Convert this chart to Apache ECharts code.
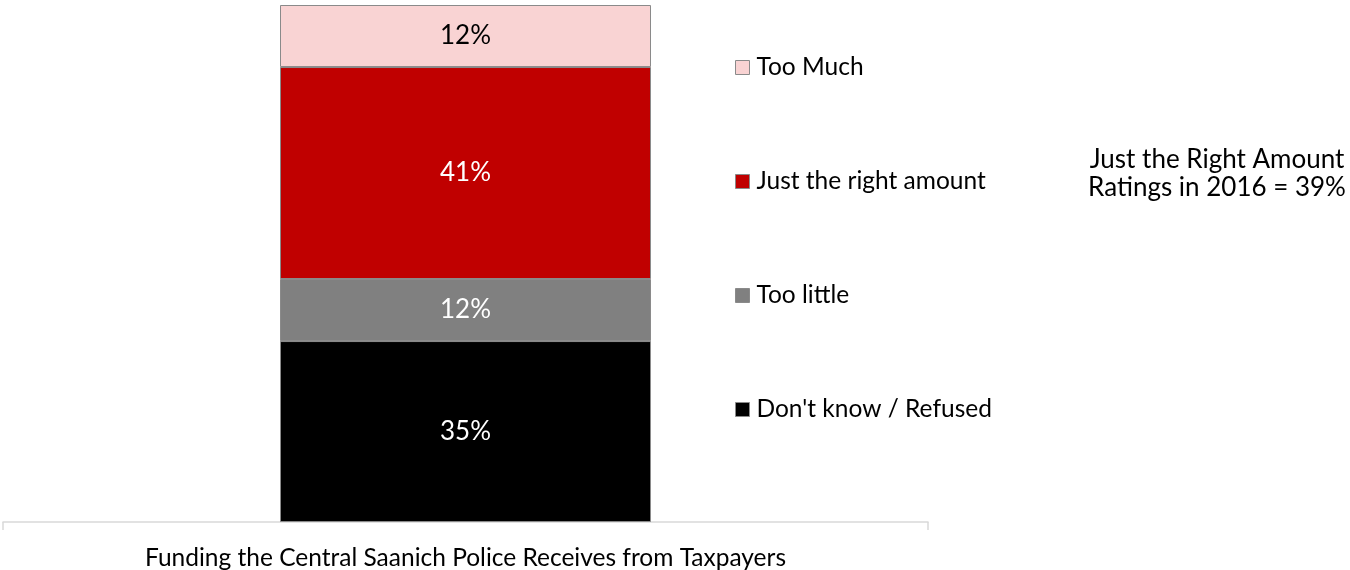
<!DOCTYPE html>
<html>
<head>
<meta charset="utf-8">
<script src="https://cdn.jsdelivr.net/npm/echarts@6/dist/echarts.min.js"></script>
<style>
  html, body { margin: 0; padding: 0; background: #fff; }
  #chart { width: 1350px; height: 570px; }
</style>
</head>
<body>
<div id="chart"></div>
<script>
// Survey responses, percent of respondents
const categories = ['Funding the Central Saanich Police Receives from Taxpayers'];
const seriesNames = ["Don't know / Refused", 'Too little', 'Just the right amount', 'Too Much'];
const dontKnow = [35];
const tooLittle = [12];
const justRight = [41];
const tooMuch = [12];
const legendOrder = ['Too Much', 'Just the right amount', 'Too little', "Don't know / Refused"];
const noteLines = ['Just the Right Amount', 'Ratings in 2016 = 39%'];

const FONT = 'Lato, Carlito, "Open Sans", sans-serif';
const colors = ['#000000', '#808080', '#C00000', '#F9D3D3'];
const labelColors = ['#ffffff', '#ffffff', '#ffffff', '#000000'];
const values = [dontKnow, tooLittle, justRight, tooMuch];

const chart = echarts.init(document.getElementById('chart'), null, { renderer: 'canvas' });

const series = seriesNames.map((name, i) => ({
  name: name,
  type: 'bar',
  stack: 'total',
  data: values[i],
  barWidth: 371,
  itemStyle: { color: colors[i], borderColor: '#8a8a8a', borderWidth: 1 },
  label: {
    show: true,
    position: 'inside',
    formatter: '{c}%',
    color: labelColors[i],
    fontFamily: FONT,
    fontSize: 26
  },
  emphasis: { disabled: true }
}));

chart.setOption({
  animation: false,
  textStyle: { fontFamily: FONT },
  grid: { left: 3, right: 422, top: 5, bottom: 48, containLabel: false, outerBoundsMode: 'none' },
  xAxis: {
    type: 'category',
    data: categories,
    axisLine: { show: true, lineStyle: { color: '#d9d9d9', width: 1.5 } },
    axisTick: { show: true, length: 8, lineStyle: { color: '#d9d9d9', width: 1.5 } },
    axisLabel: { margin: 24, color: '#000', fontSize: 24.5, fontFamily: FONT }
  },
  yAxis: {
    type: 'value',
    min: 0,
    max: 100,
    show: false
  },
  legend: {
    orient: 'vertical',
    left: 735,
    top: 55,
    padding: 0,
    data: legendOrder,
    icon: 'rect',
    itemWidth: 14,
    itemHeight: 14,
    itemGap: 89,
    selectedMode: false,
    itemStyle: { borderColor: '#8a8a8a', borderWidth: 1 },
    textStyle: { fontSize: 24.5, lineHeight: 24, color: '#000', fontFamily: FONT, padding: [0, 0, 0, 2] }
  },
  graphic: [{
    type: 'text',
    x: 1217,
    y: 146,
    style: {
      text: noteLines.join('\n'),
      font: '26px ' + FONT,
      fill: '#000',
      align: 'center',
      lineHeight: 28
    }
  }],
  series: series
});
</script>
</body>
</html>
